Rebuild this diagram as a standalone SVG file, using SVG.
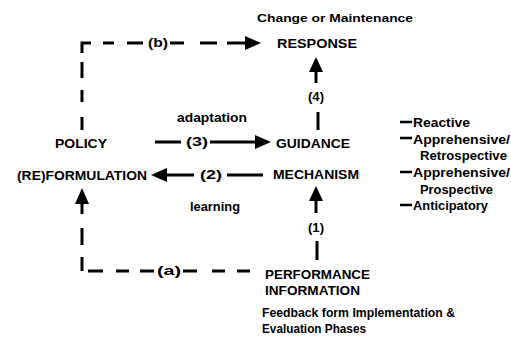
<svg xmlns="http://www.w3.org/2000/svg" width="511" height="337" viewBox="0 0 511 337">
  <style>
    text { font-family: "Liberation Sans", Arial, sans-serif; font-weight: bold; fill: #000; }
    .lbl { font-size: 13.5px; }
    .sm { font-size: 12.5px; }
    .ln { stroke: #000; stroke-width: 3; fill: none; stroke-linecap: butt; }
    .head { fill: #000; }
  </style>
  <rect width="511" height="337" fill="#fff"/>

  <!-- connectors -->
  <g id="connectors">
    <!-- (b) dashed feedback: policy up and across to response -->
    <path class="ln" d="M82,53 V43 H91"/>
    <path class="ln" d="M82,62 V78 M82,90 V102 M82,117 V130"/>
    <path class="ln" d="M103,43 H114 M127,43 H143 M170,43 H184 M200,43 H217 M227,43 H248"/>
    <polygon class="head" points="261,43 245,36 245,50"/>
    <text class="sm" x="148" y="47" textLength="20" lengthAdjust="spacingAndGlyphs">(b)</text>

    <!-- (a) dashed feedback: performance information to policy -->
    <path class="ln" d="M82,228 V245 M82,257 V271 M88,271 H103 M116,271 H129 M140,271 H154 M183,271 H197 M212,271 H225 M237,271 H250"/>
    <path class="ln" d="M82,203 V214"/>
    <polygon class="head" points="82,188 75,204 89,204"/>
    <text class="sm" x="157" y="275" textLength="24" lengthAdjust="spacingAndGlyphs">(a)</text>

    <!-- (3) adaptation: policy to guidance -->
    <path class="ln" d="M155,142 H181 M210,142 H256"/>
    <polygon class="head" points="271,142 255,135 255,149"/>
    <text class="sm" x="186" y="146" textLength="22" lengthAdjust="spacingAndGlyphs">(3)</text>

    <!-- (2) learning: mechanism to policy -->
    <path class="ln" d="M166,175 H194 M227,175 H263"/>
    <polygon class="head" points="151,175 167,168 167,182"/>
    <text class="sm" x="200" y="179" textLength="22" lengthAdjust="spacingAndGlyphs">(2)</text>

    <!-- (4) guidance to response -->
    <path class="ln" d="M316,71 V83 M318,112 V130"/>
    <polygon class="head" points="316,57 309,72 323,72"/>
    <text class="sm" x="308" y="101" textLength="16" lengthAdjust="spacingAndGlyphs">(4)</text>

    <!-- (1) performance information to mechanism -->
    <path class="ln" d="M316,200 V213 M317,241 V260"/>
    <polygon class="head" points="316,186 309,201 323,201"/>
    <text class="sm" x="308" y="232" textLength="16" lengthAdjust="spacingAndGlyphs">(1)</text>
  </g>

  <g id="response">
    <text style="font-size:11.5px" x="257" y="22" textLength="156" lengthAdjust="spacingAndGlyphs">Change or Maintenance</text>
    <text class="lbl" x="277" y="48" textLength="80" lengthAdjust="spacingAndGlyphs">RESPONSE</text>
  </g>

  <g id="policy">
    <text class="lbl" x="55" y="148" textLength="52" lengthAdjust="spacingAndGlyphs">POLICY</text>
    <text class="lbl" x="17" y="180" textLength="130" lengthAdjust="spacingAndGlyphs">(RE)FORMULATION</text>
  </g>

  <g id="guidance">
    <text class="lbl" x="276" y="148" textLength="74" lengthAdjust="spacingAndGlyphs">GUIDANCE</text>
    <text class="lbl" x="273" y="179" textLength="86" lengthAdjust="spacingAndGlyphs">MECHANISM</text>
  </g>

  <g id="performance">
    <text class="lbl" x="265" y="279" textLength="105" lengthAdjust="spacingAndGlyphs">PERFORMANCE</text>
    <text class="lbl" x="265" y="295" textLength="95" lengthAdjust="spacingAndGlyphs">INFORMATION</text>
    <text class="sm" x="262" y="317" textLength="193" lengthAdjust="spacingAndGlyphs">Feedback form Implementation &amp;</text>
    <text class="sm" x="262" y="333" textLength="104" lengthAdjust="spacingAndGlyphs">Evaluation Phases</text>
  </g>

  <g id="edge-labels">
    <text class="sm" x="177" y="122" textLength="70" lengthAdjust="spacingAndGlyphs">adaptation</text>
    <text class="sm" x="190" y="211" textLength="50" lengthAdjust="spacingAndGlyphs">learning</text>
  </g>

  <g id="guidance-types">
    <path class="ln" style="stroke-width:2.5" d="M400,122 H412 M400,138 H412 M400,172 H412 M400,205 H412"/>
    <text class="lbl" x="413" y="127" textLength="57" lengthAdjust="spacingAndGlyphs">Reactive</text>
    <text class="lbl" x="413" y="143.5" textLength="97" lengthAdjust="spacingAndGlyphs">Apprehensive/</text>
    <text class="lbl" x="420" y="160" textLength="87" lengthAdjust="spacingAndGlyphs">Retrospective</text>
    <text class="lbl" x="413" y="177" textLength="97" lengthAdjust="spacingAndGlyphs">Apprehensive/</text>
    <text class="lbl" x="420" y="193.5" textLength="73" lengthAdjust="spacingAndGlyphs">Prospective</text>
    <text class="lbl" x="413" y="210" textLength="75" lengthAdjust="spacingAndGlyphs">Anticipatory</text>
  </g>
</svg>
